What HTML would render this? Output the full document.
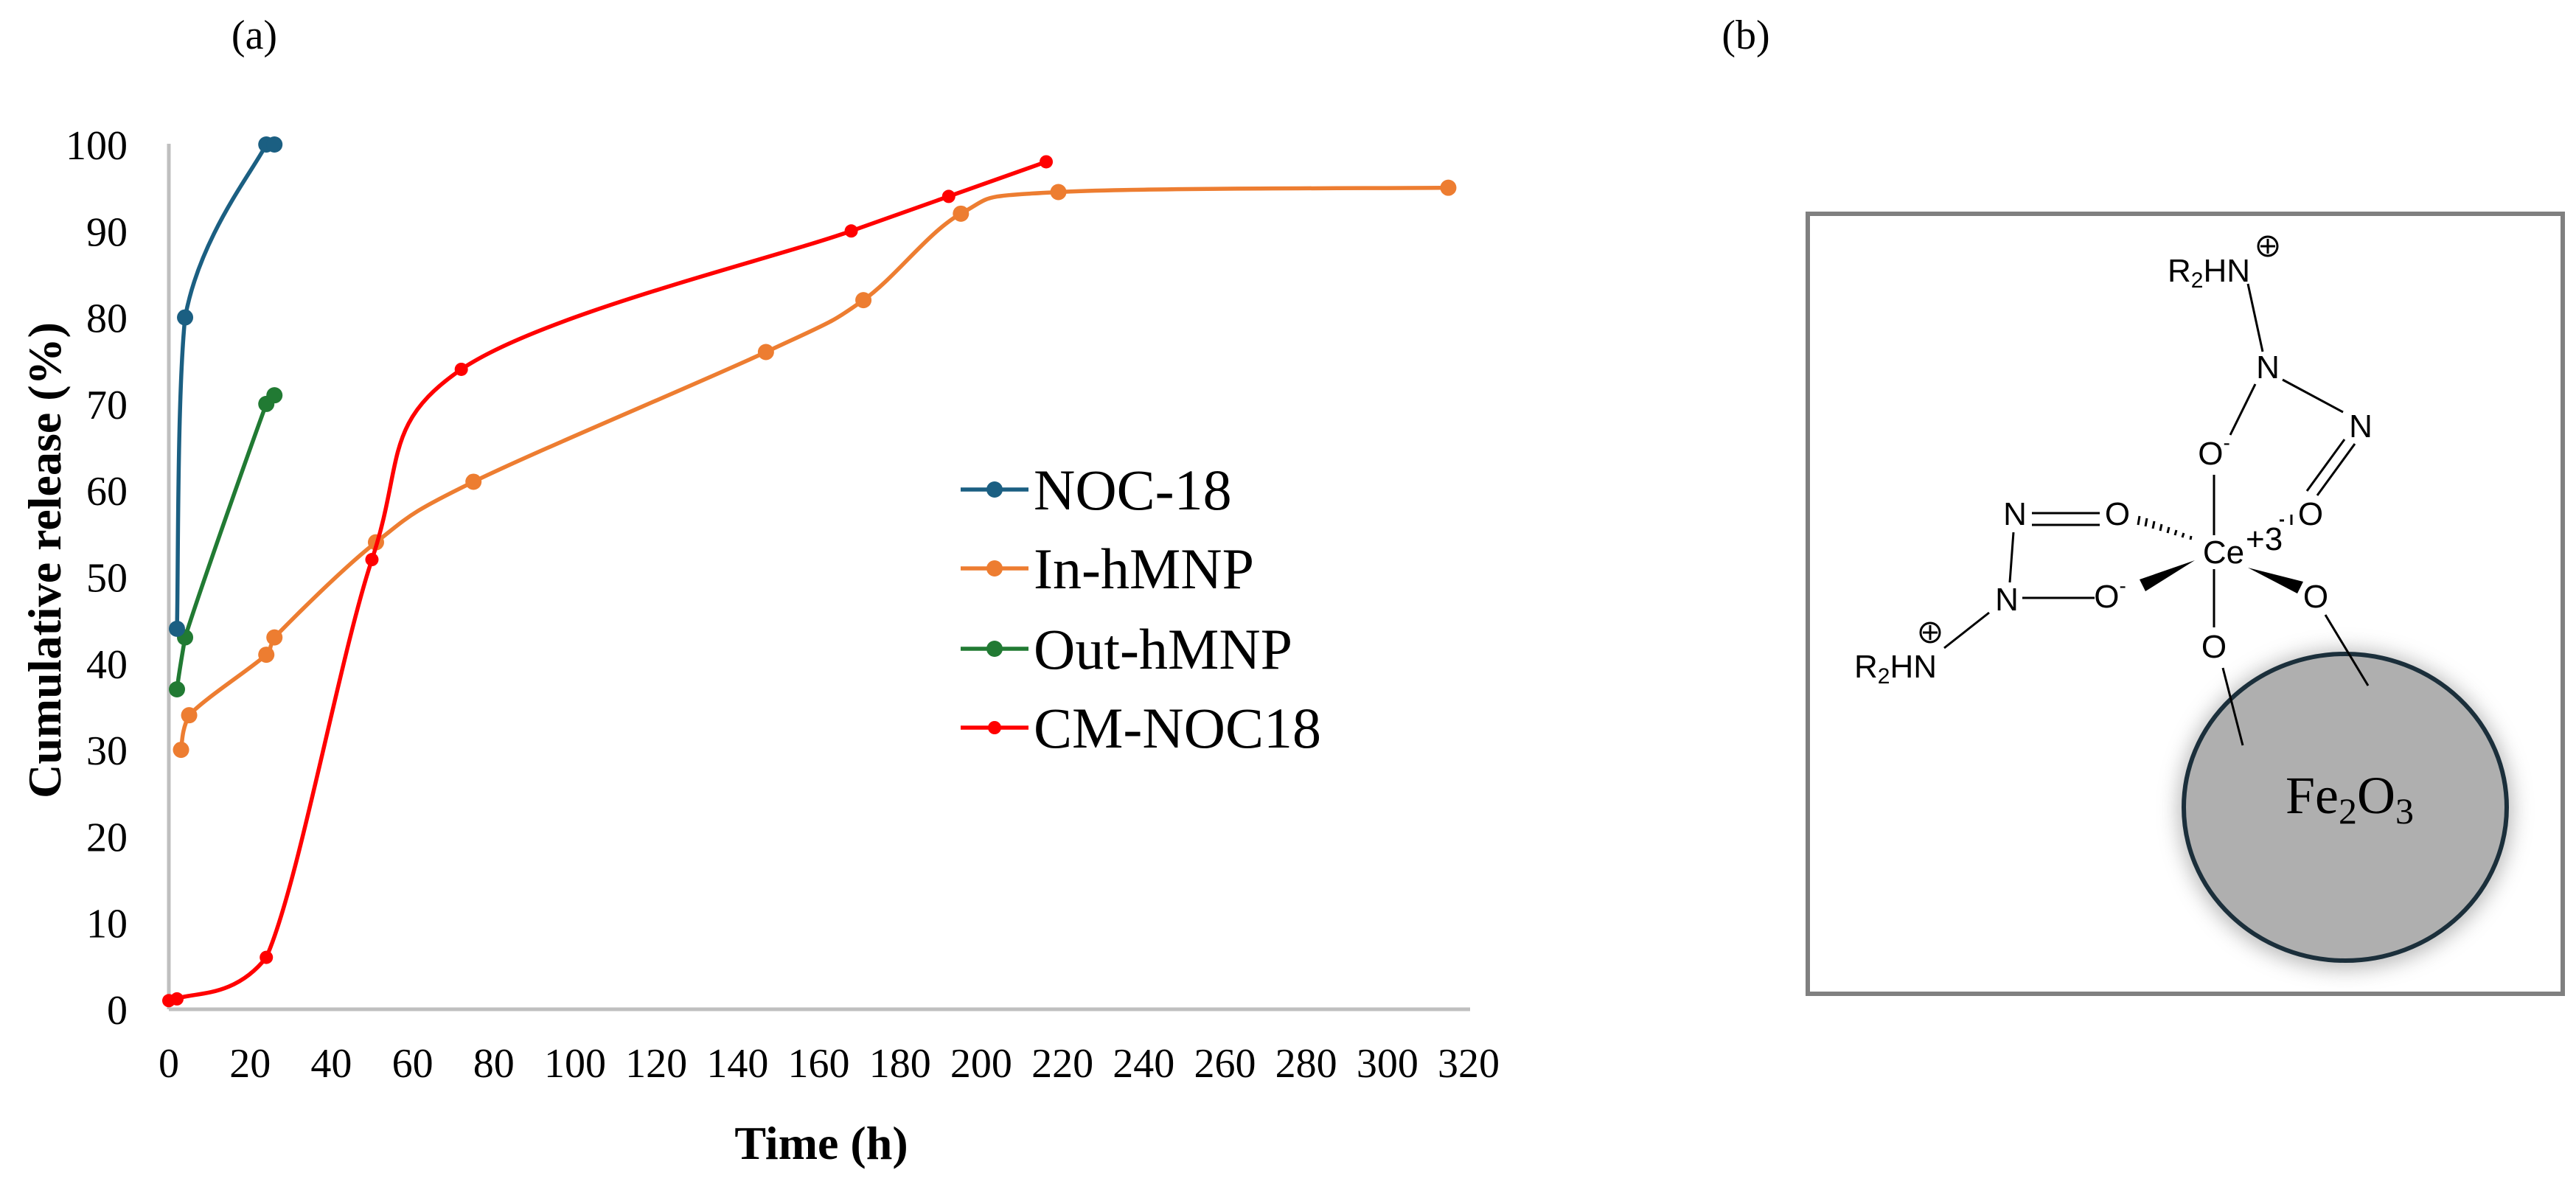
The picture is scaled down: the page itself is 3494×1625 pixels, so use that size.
<!DOCTYPE html>
<html><head><meta charset="utf-8"><style>
html,body{margin:0;padding:0;background:#fff;}
svg{display:block;}
.tk{font-family:"Liberation Serif",serif;font-size:56px;fill:#000;}
.at{font-family:"Liberation Sans",sans-serif;font-size:44px;fill:#000;}
</style></head><body>
<svg id="fig" width="3494" height="1625" viewBox="0 0 3494 1625" xmlns="http://www.w3.org/2000/svg">
<defs>
<filter id="glow" x="-20%" y="-20%" width="140%" height="140%"><feGaussianBlur stdDeviation="14"/></filter>
</defs>
<text x="345" y="66" class="tk" text-anchor="middle" font-size="60">(a)</text>
<text x="2368" y="66" class="tk" text-anchor="middle" font-size="60">(b)</text>
<g id="chart"></g>
<text x="1114" y="1572" font-family="Liberation Serif,serif" font-weight="bold" font-size="64" text-anchor="middle">Time (h)</text>
<text transform="translate(82,760) rotate(-90)" font-family="Liberation Serif,serif" font-weight="bold" font-size="64" text-anchor="middle">Cumulative release (%)</text>

<g>
<rect x="2452" y="290" width="1024" height="1058" fill="#fff" stroke="#808080" stroke-width="6"/>
<ellipse cx="3181" cy="1098" rx="226" ry="216" fill="#999" filter="url(#glow)" opacity="0.7"/>
<ellipse cx="3181" cy="1095" rx="219" ry="208" fill="#afafaf" stroke="#1b2f3b" stroke-width="6"/>
<text x="3100" y="1103" font-family="Liberation Serif,serif" font-size="72">Fe<tspan font-size="50" dy="14">2</tspan><tspan dy="-14">O</tspan><tspan font-size="50" dy="14">3</tspan></text>
<g stroke="#000" stroke-width="3" fill="none">
<line x1="3049" y1="385" x2="3069" y2="477"/>
<line x1="3096" y1="515" x2="3178" y2="559"/>
<line x1="3194" y1="602" x2="3143" y2="672"/>
<line x1="3180" y1="596" x2="3129" y2="666"/>
<line x1="3059" y1="521" x2="3025" y2="590"/>
<line x1="3003" y1="644" x2="3003" y2="726"/>
<line x1="3003" y1="772" x2="3003" y2="851"/>
<line x1="3015" y1="906" x2="3042" y2="1011"/>
<line x1="3154" y1="834" x2="3212" y2="930"/>
<line x1="2743" y1="811" x2="2841" y2="811"/>
<line x1="2731" y1="722" x2="2726" y2="790"/>
<line x1="2756" y1="696" x2="2848" y2="696"/>
<line x1="2756" y1="712" x2="2848" y2="712"/>
<line x1="2698" y1="831" x2="2637" y2="879"/>
<line x1="3108" y1="698" x2="3108" y2="712"/>
<line x1="3092" y1="706" x2="3098" y2="706"/>
<circle cx="3076" cy="334" r="13"/><line x1="3066" y1="334" x2="3086" y2="334"/><line x1="3076" y1="324" x2="3076" y2="344"/>
<circle cx="2618" cy="858" r="13"/><line x1="2608" y1="858" x2="2628" y2="858"/><line x1="2618" y1="848" x2="2618" y2="868"/>
</g>
<g stroke="#000" stroke-width="3">
<line x1="2902" y1="700" x2="2900" y2="712"/><line x1="2912" y1="703" x2="2910" y2="714"/><line x1="2922" y1="707" x2="2920" y2="717"/><line x1="2932" y1="711" x2="2930" y2="720"/><line x1="2942" y1="715" x2="2940" y2="723"/><line x1="2952" y1="719" x2="2950" y2="726"/><line x1="2962" y1="723" x2="2960" y2="729"/><line x1="2972" y1="727" x2="2971" y2="732"/>
</g>
<polygon points="2977,760 2902,786 2910,802" fill="#000"/>
<polygon points="3049,770 3124,789 3116,805" fill="#000"/>
<text x="2940" y="382" class="at">R<tspan font-size="30" dy="8">2</tspan><tspan dy="-8">HN</tspan></text>
<text x="3076" y="513" class="at" text-anchor="middle">N</text>
<text x="3202" y="593" class="at" text-anchor="middle">N</text>
<text x="3003" y="630" class="at" text-anchor="middle">O<tspan font-size="28" dy="-20">-</tspan></text>
<text x="3134" y="712" class="at" text-anchor="middle">O</text>
<text x="2733" y="712" class="at" text-anchor="middle">N</text>
<text x="2872" y="712" class="at" text-anchor="middle">O</text>
<text x="3016" y="764" class="at" text-anchor="middle">Ce</text>
<text x="3046" y="746" class="at" font-size="30">+3</text>
<text x="2722" y="828" class="at" text-anchor="middle">N</text>
<text x="2862" y="824" class="at" text-anchor="middle">O<tspan font-size="28" dy="-20">-</tspan></text>
<text x="3141" y="824" class="at" text-anchor="middle">O</text>
<text x="3003" y="892" class="at" text-anchor="middle">O</text>
<text x="2515" y="919" class="at">R<tspan font-size="30" dy="8">2</tspan><tspan dy="-8">HN</tspan></text>
</g>
</svg>
<script>
var xTicks=[0,20,40,60,80,100,120,140,160,180,200,220,240,260,280,300,320];
var yTicks=[0,10,20,30,40,50,60,70,80,90,100];
var seriesNames=["NOC-18","In-hMNP","Out-hMNP","CM-NOC18"];
var seriesColors=["#1b5f82","#ed7d31","#217a33","#ff0000"];
var nocX=[2,4,24,26];
var nocY=[44,80,100,100];
var inX=[3,5,24,26,51,75,147,171,195,219,315];
var inY=[30,34,41,43,54,61,76,82,92,94.5,95];
var outX=[2,4,24,26];
var outY=[37,43,70,71];
var cmX=[0,2,24,50,72,168,192,216];
var cmY=[1,1.2,6,52,74,90,94,98];

var NS="http://www.w3.org/2000/svg";
var g=document.getElementById('chart');
var X0=229,X1=1992,Y0=1369,Y1=196;
function sx(v){return X0+(X1-X0)*v/320;}
function sy(v){return Y0-(Y0-Y1)*v/100;}
function mk(t,a,p){var e=document.createElementNS(NS,t);for(var k in a)e.setAttribute(k,a[k]);(p||g).appendChild(e);return e;}

var ax=mk('line',{x1:X0,y1:Y0,x2:1994,y2:Y0,stroke:'#bfbfbf','stroke-width':5});


var ay=mk('line',{x1:X0,y1:Y0,x2:X0,y2:195,stroke:'#bfbfbf','stroke-width':5});


xTicks.forEach(function(t){
  var e=mk('text',{x:sx(t),y:1461,'text-anchor':'middle','class':'tk'});
  e.textContent=t;
  
  
});
yTicks.forEach(function(t){
  var e=mk('text',{x:173,y:sy(t)+20,'text-anchor':'end','class':'tk'});
  e.textContent=t;
  
  
});
function clamp(v,a,b){var lo=Math.min(a,b),hi=Math.max(a,b);return Math.max(lo,Math.min(hi,v));}
// Catmull-Rom with control y clamped to segment range (no undershoot)
function smooth(px){
  var d='M'+px[0][0]+','+px[0][1];
  for(var i=0;i<px.length-1;i++){
    var p0=px[i-1]||px[i],p1=px[i],p2=px[i+1],p3=px[i+2]||p2;
    var c1=[p1[0]+(p2[0]-p0[0])/6,clamp(p1[1]+(p2[1]-p0[1])/6,p1[1],p2[1])];
    var c2=[p2[0]-(p3[0]-p1[0])/6,clamp(p2[1]-(p3[1]-p1[1])/6,p1[1],p2[1])];
    c1[0]=clamp(c1[0],p1[0],p2[0]);c2[0]=clamp(c2[0],p1[0],p2[0]);
    d+=' C'+c1[0]+','+c1[1]+' '+c2[0]+','+c2[1]+' '+p2[0]+','+p2[1];
  }
  return d;
}
var allX=[nocX,inX,outX,cmX],allY=[nocY,inY,outY,cmY];
var order=[1,3,2,0];
order.forEach(function(s){
  var pts=allX[s].map(function(x,i){return [sx(x),sy(allY[s][i])];});
  var sg=mk('g',{});
  
  
  var p=mk('path',{d:smooth(pts),fill:'none',stroke:seriesColors[s],'stroke-width':5.5},sg);
  
  
  pts.forEach(function(q){
    var c=mk('circle',{cx:q[0],cy:q[1],r:(s==3?9:11),fill:seriesColors[s]},sg);
    
    
  });
});
var legY=[664,771,880,987];
seriesNames.forEach(function(n,i){
  var lg=mk('g',{});
  
  
  mk('line',{x1:1303,y1:legY[i],x2:1395,y2:legY[i],stroke:seriesColors[i],'stroke-width':5.5},lg);
  mk('circle',{cx:1349,cy:legY[i],r:(i==3?9:11),fill:seriesColors[i]},lg);
  var t=mk('text',{x:1402,y:legY[i]+27,'font-family':'Liberation Serif,serif','font-size':78},lg);
  t.textContent=n;
});
</script>
</body></html>
